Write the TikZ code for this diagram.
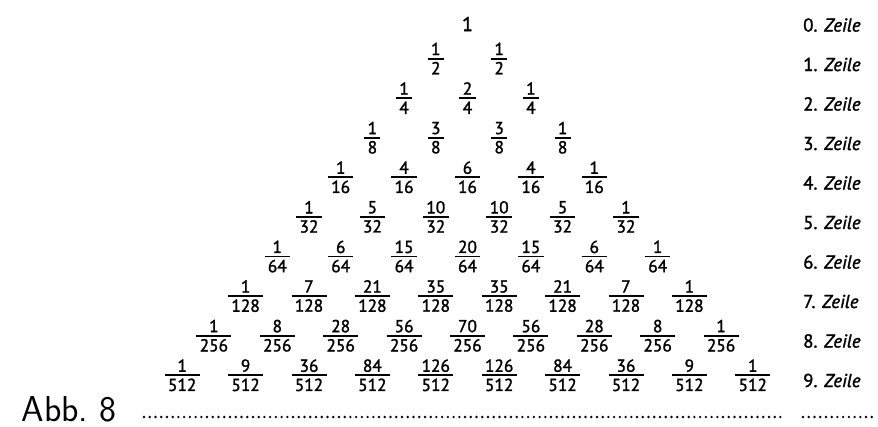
\documentclass[tikz,border=0pt]{standalone}
\usepackage{fontspec}
\usepackage{tikz}

\newfontfamily\dinfont[RawFeature={embolden=1.6}]{PT Sans}
\newcommand{\fr}[2]{{\setlength{\arrayrulewidth}{1.4pt}\renewcommand{\arraystretch}{0}%
  \begin{tabular}{@{\kern2.5pt}c@{\kern2.5pt}}\rule[-2pt]{0pt}{9.6pt}#1\\\hline\rule{0pt}{11pt}#2\end{tabular}}}

\tikzset{
  bruch/.style={font=\dinfont\fontsize{13}{15}\selectfont, inner sep=0pt},
  zeile/.style={font=\dinfont\fontsize{14}{16}\selectfont, anchor=west, inner sep=0pt},
  punkte/.style={line width=2pt, line cap=round, dash pattern=on 0pt off 4.3pt}
}

\begin{document}
\begin{tikzpicture}[x=0.75pt,y=-0.75pt]
\useasboundingbox (0,0) rectangle (878,427);

% Dreieck
\node[bruch, font=\dinfont\fontsize{15}{17}\selectfont] (z0-0) at (467.5,24) {1};
\foreach \n [count=\i from 0] in {1,1}
  \node[bruch] (z1-\i) at ({467.5+31.7*(2*\i-1)},58.5) {\fr{\n}{2}};
\foreach \n [count=\i from 0] in {1,2,1}
  \node[bruch] (z2-\i) at ({467.5+31.7*(2*\i-2)},98.1) {\fr{\n}{4}};
\foreach \n [count=\i from 0] in {1,3,3,1}
  \node[bruch] (z3-\i) at ({467.5+31.7*(2*\i-3)},137.7) {\fr{\n}{8}};
\foreach \n [count=\i from 0] in {1,4,6,4,1}
  \node[bruch] (z4-\i) at ({467.5+31.7*(2*\i-4)},177.3) {\fr{\n}{16}};
\foreach \n [count=\i from 0] in {1,5,10,10,5,1}
  \node[bruch] (z5-\i) at ({467.5+31.7*(2*\i-5)},216.9) {\fr{\n}{32}};
\foreach \n [count=\i from 0] in {1,6,15,20,15,6,1}
  \node[bruch] (z6-\i) at ({467.5+31.7*(2*\i-6)},256.5) {\fr{\n}{64}};
\foreach \n [count=\i from 0] in {1,7,21,35,35,21,7,1}
  \node[bruch] (z7-\i) at ({467.5+31.7*(2*\i-7)},296.1) {\fr{\n}{128}};
\foreach \n [count=\i from 0] in {1,8,28,56,70,56,28,8,1}
  \node[bruch] (z8-\i) at ({467.5+31.7*(2*\i-8)},335.7) {\fr{\n}{256}};
\foreach \n [count=\i from 0] in {1,9,36,84,126,126,84,36,9,1}
  \node[bruch] (z9-\i) at ({467.5+31.7*(2*\i-9)},375.3) {\fr{\n}{512}};

% Zeilennummern
\foreach \k in {0,...,9}
  \node[zeile] (l\k) at (803,{25+39.5*\k}) {\k. \textit{Zeile}};

\node[font=\sffamily\fontsize{27}{30}\selectfont, inner sep=0pt] (abb) at (69,409) {Abb.~8};

\coordinate (p1) at (144,417);
\coordinate (p2) at (784,417);
\coordinate (p3) at (803,417);
\coordinate (p4) at (872,417);
\draw[punkte] (p1) -- (p2);
\draw[punkte] (p3) -- (p4);
\end{tikzpicture}
\end{document}
